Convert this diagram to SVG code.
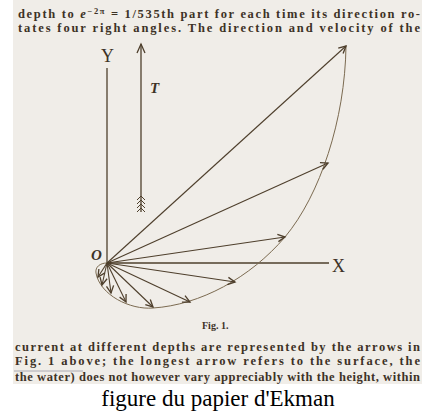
<svg xmlns="http://www.w3.org/2000/svg" width="427" height="412" viewBox="0 0 427 412">
<style>
.body{font-family:"Liberation Serif","DejaVu Serif",serif;font-weight:bold;font-size:12.5px;fill:#3d3226}
.lbl{font-family:"Liberation Serif","DejaVu Serif",serif;fill:#3d3226}
.ax{stroke:#4e3f2c;stroke-width:1.3;fill:none}
.arr{stroke:#4e3f2c;stroke-width:1.1;fill:none;marker-end:url(#head)}
.crv{stroke:#7b6a50;stroke-width:1;fill:none}
</style>
<defs>
<marker id="head" markerUnits="userSpaceOnUse" markerWidth="12" markerHeight="12" viewBox="-8 -5 10 10" refX="0" refY="0" orient="auto">
<path d="M-6,-3 L0,0 L-6,3" fill="none" stroke="#4e3f2c" stroke-width="1.1"/>
</marker>
<clipPath id="scan"><rect x="13" y="0" width="409" height="384"/></clipPath>
</defs>
<rect x="0" y="0" width="427" height="412" fill="#ffffff"/>
<rect x="13" y="0" width="409" height="384" fill="#f0ede8"/>

<g id="top-text">
<text class="body" x="18" y="18" textLength="402" lengthAdjust="spacing">depth to <tspan font-style="italic">e</tspan><tspan dy="-4" font-size="8.5">−2π</tspan><tspan dy="4"> = 1/535th part for each time its direction ro-</tspan></text>
<text class="body" x="18" y="32" textLength="402" lengthAdjust="spacing">tates four right angles. The direction and velocity of the</text>
</g>

<g id="connectors">
<line class="ax" x1="107" y1="68" x2="107" y2="263"/>
<line class="ax" x1="107" y1="263" x2="329" y2="263"/>
<path class="crv" d="M346,46 C345,120 320,195 285,237 C250,278 200,305 153,308 C130,310 100,295 96,273 C95,267 100,263 107,263"/>
<line class="arr" x1="107" y1="263" x2="346" y2="46"/>
<line class="arr" x1="107" y1="263" x2="328" y2="163"/>
<line class="arr" x1="107" y1="263" x2="285" y2="237"/>
<line class="arr" x1="107" y1="263" x2="235" y2="282"/>
<line class="arr" x1="107" y1="263" x2="190" y2="302"/>
<line class="arr" x1="107" y1="263" x2="153" y2="307"/>
<line class="arr" x1="107" y1="263" x2="126" y2="302"/>
<line class="arr" x1="107" y1="263" x2="111" y2="293"/>
<line class="arr" x1="107" y1="263" x2="102" y2="285"/>
<line class="arr" x1="107" y1="263" x2="98" y2="277"/>
</g>

<g id="T-arrow">
<line class="ax" x1="141" y1="44" x2="141" y2="212"/>
<path class="ax" d="M137,53 L141,44 L145,53"/>
<path d="M137,200 L141,196 L145,200 M137,204 L141,200 L145,204 M137,208 L141,204 L145,208 M137,212 L141,208 L145,212" stroke="#4e3f2c" stroke-width="1" fill="none"/>
<text class="lbl" x="150" y="93" font-size="15" font-style="italic" font-weight="bold">T</text>
</g>

<g id="labels">
<text class="lbl" x="101" y="62" font-size="18">Y</text>
<text class="lbl" x="332" y="272" font-size="18">X</text>
<text class="lbl" x="91" y="260" font-size="15" font-style="italic" font-weight="bold">O</text>
<text class="lbl" x="202" y="329" font-size="10" font-weight="bold" fill="#5a4d3e">Fig. 1.</text>
</g>

<g id="bottom-text">
<text class="body" x="15" y="351" textLength="405" lengthAdjust="spacing">current at different depths are represented by the arrows in</text>
<text class="body" x="15" y="365" textLength="405" lengthAdjust="spacing">Fig. 1 above; the longest arrow refers to the surface, the</text>
<line x1="14" y1="371" x2="83" y2="371" stroke="#9a9aa4" stroke-width="0.8"/>
<g clip-path="url(#scan)">
<text class="body" x="15" y="381" font-size="10.5" textLength="405" lengthAdjust="spacing" fill="#5a4b3a">the water) does not however vary appreciably with the height, within</text>
</g>
</g>

<text x="218" y="406" text-anchor="middle" font-family="'Liberation Serif','Times New Roman',serif" font-size="23" fill="#000">figure du papier d'Ekman</text>
</svg>
